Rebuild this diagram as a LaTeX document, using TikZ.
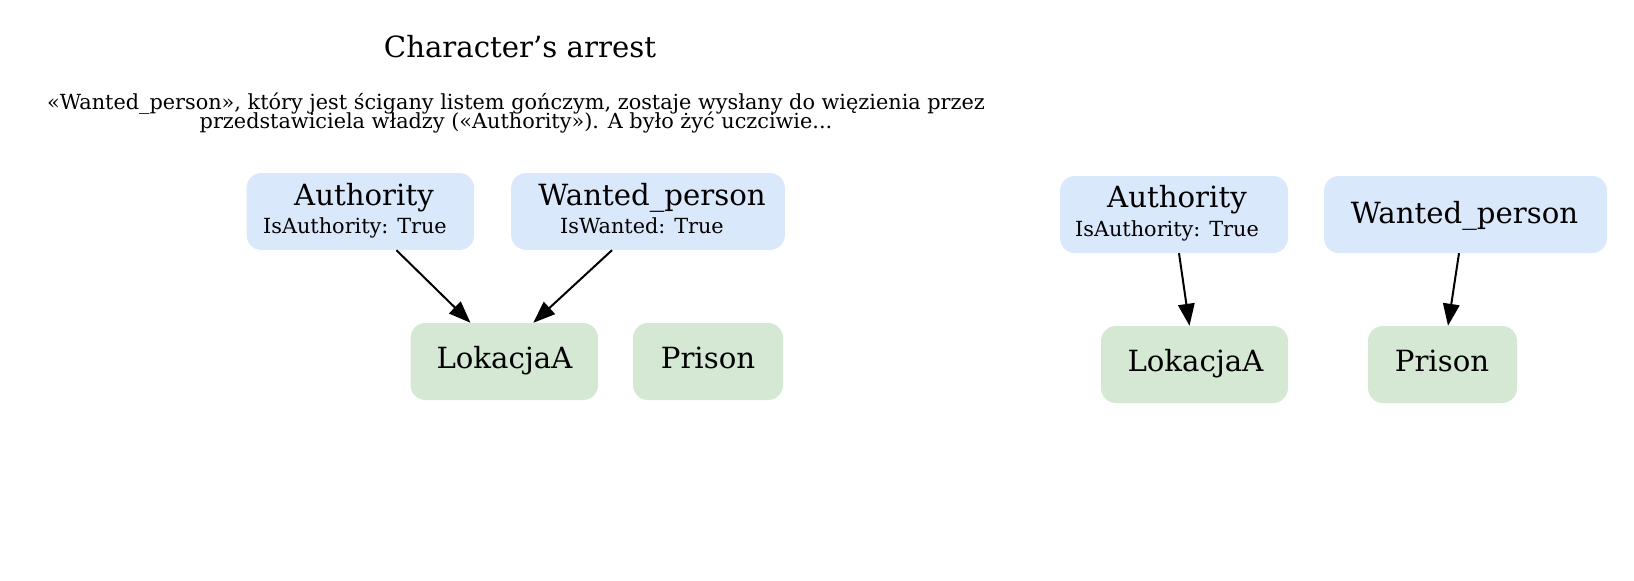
\documentclass[tikz,border=0pt]{standalone}
\usepackage{fontspec}
\setmainfont{DejaVu Serif}
\usetikzlibrary{arrows.meta}
\definecolor{bluefill}{HTML}{DAE8FC}
\definecolor{greenfill}{HTML}{D5E8D4}
\tikzset{
  boxbase/.style={rectangle, rounded corners=15pt, draw=none, inner sep=0pt, minimum height=77pt},
  bluebox/.style={boxbase, fill=bluefill},
  greenbox/.style={boxbase, fill=greenfill},
  bigtxt/.style={anchor=base, inner sep=0pt, font=\fontsize{29.2}{34}\selectfont},
  smalltxt/.style={anchor=base, inner sep=0pt, font=\fontsize{20.8}{24}\selectfont},
  arr/.style={line width=2pt, -{Triangle[length=22pt,width=16.5pt]}}
}
\begin{document}
\begin{tikzpicture}[x=1pt,y=-1pt]
\useasboundingbox[fill=white] (0,0) rectangle (1634,581);
% header
\node[bigtxt] (title) at (520,57.3) {Character’s arrest};
\node[smalltxt, align=center, font={\fontsize{20.8}{18.6}\selectfont\lineskiplimit=-30pt}] (sub) at (516,128)
  {«Wanted\_person», który jest ścigany listem gończym, zostaje wysłany do więzienia przez\\
   przedstawiciela władzy («Authority»). A było żyć uczciwie...};
% left group
\node[bluebox, minimum width=227.6pt] (auth1) at (360.4,211.5) {};
\node[bigtxt] (auth1t) at (364,205) {Authority};
\node[smalltxt] (auth1s) at (355,233) {IsAuthority: True};
\node[bluebox, minimum width=273.7pt] (want1) at (648,211.5) {};
\node[bigtxt] (want1t) at (652,205) {Wanted\_person};
\node[smalltxt] (want1s) at (642,233) {IsWanted: True};
\node[greenbox, minimum width=187.5pt] (lok1) at (504.3,361.5) {};
\node[bigtxt] (lok1t) at (504.5,368) {LokacjaA};
\node[greenbox, minimum width=150pt] (pris1) at (708,361.5) {};
\node[bigtxt] (pris1t) at (708,368) {Prison};
% right group
\node[bluebox, minimum width=228pt] (auth2) at (1174,214.5) {};
\node[bigtxt] (auth2t) at (1177,207) {Authority};
\node[smalltxt] (auth2s) at (1167,236) {IsAuthority: True};
\node[bluebox, minimum width=283pt] (want2) at (1465.5,214.5) {};
\node[bigtxt] (want2t) at (1464.6,223.5) {Wanted\_person};
\node[greenbox, minimum width=187pt] (lok2) at (1194.5,364.5) {};
\node[bigtxt] (lok2t) at (1195.5,371.7) {LokacjaA};
\node[greenbox, minimum width=149pt] (pris2) at (1442.5,364.5) {};
\node[bigtxt] (pris2t) at (1442,371.7) {Prison};
% edges
\draw[arr] ([xshift=36pt]auth1.south) -- ([xshift=-33.8pt]lok1.north);
\draw[arr] ([xshift=-36pt]want1.south) -- ([xshift=29pt]lok1.north);
\draw[arr] ([xshift=5pt]auth2.south) -- ([xshift=-5pt]lok2.north);
\draw[arr] ([xshift=-6.5pt]want2.south) -- ([xshift=5.5pt]pris2.north);
\end{tikzpicture}
\end{document}
